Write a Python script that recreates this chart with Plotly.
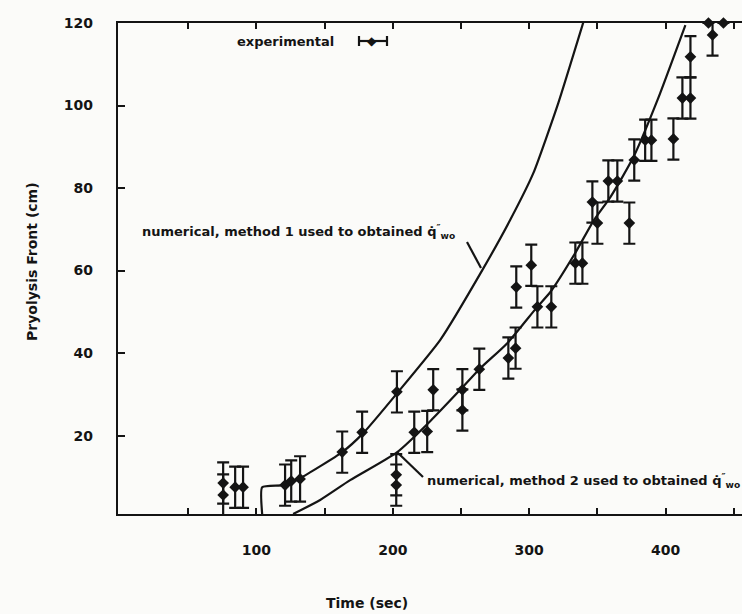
import plotly.graph_objects as go

# ---- experimental data (time s, pyrolysis front cm, +/- error cm)
exp_time = [75.6, 75.6, 84.4, 90.2, 121.0, 125.5, 132.0, 162.9, 177.5, 203.0, 202.5, 202.5,
            215.7, 225.2, 229.6, 251.0, 251.0, 263.4, 284.7, 290.0, 290.5, 301.5, 306.0,
            316.2, 333.8, 339.0, 346.3, 350.0, 358.0, 364.6, 373.4, 377.0, 385.0, 389.6,
            405.7, 412.3, 418.2, 418.2, 434.4, 431.4, 442.4]
exp_front = [8.5, 5.6, 7.5, 7.5, 8.0, 9.0, 9.5, 16.0, 20.8, 30.6, 10.5, 8.0,
             20.8, 21.0, 31.1, 31.1, 26.2, 36.1, 38.8, 41.2, 56.0, 61.3, 51.2,
             51.2, 61.8, 61.8, 76.6, 71.5, 81.7, 81.7, 71.5, 86.8, 91.6, 91.6,
             91.9, 101.8, 101.8, 111.8, 117.1, 120.0, 120.0]
exp_err = [5, 5, 5, 5, 5, 5, 5.5, 5, 5, 5, 5, 5,
           5, 5, 5, 5, 5, 5, 5, 5, 5, 5, 5,
           5, 5, 5, 5, 5, 5, 5, 5, 5, 5, 5,
           5, 5, 5, 5, 5, 0, 0]

# ---- numerical, method 1
m1_time = [104.2, 104.2, 119.6, 132.1, 162.9, 178.3, 203.2, 234.8, 265.6, 286.1, 303.0, 321.3, 339.7]
m1_front = [1.0, 7.5, 8.0, 9.7, 16.0, 20.6, 30.3, 43.2, 60.1, 72.3, 83.6, 100.6, 120.2]

# ---- numerical, method 2
m2_time = [126.9, 146.7, 168.7, 203.2, 227.4, 249.4, 263.4, 283.9, 305.9, 315.5, 333.8,
           347.0, 359.5, 376.4, 394.0, 414.5]
m2_front = [1.0, 4.4, 9.2, 16.0, 23.5, 31.1, 36.1, 42.4, 51.2, 54.8, 64.3,
            72.0, 77.8, 87.5, 101.3, 119.5]

x_tickvals = [50, 100, 150, 200, 250, 300, 350, 400, 450]
x_ticktext = ["", "100", "", "200", "", "300", "", "400", ""]
y_tickvals = [20, 40, 60, 80, 100, 120]
y_ticktext = ["20", "40", "60", "80", "100", "120"]

INK = "#141414"
BG = "#fbfbf9"
TICKFONT = dict(family="DejaVu Sans", size=14, color=INK, weight="bold")
ann_font = dict(family="DejaVu Sans", size=13, color=INK, weight="bold")
title_font = dict(family="DejaVu Sans", size=14, color=INK, weight="bold")

fig = go.Figure()
fig.add_trace(go.Scatter(x=m1_time, y=m1_front, mode="lines",
                         line=dict(color=INK, width=2.2, shape="spline", smoothing=0.5),
                         showlegend=False))
fig.add_trace(go.Scatter(x=m2_time, y=m2_front, mode="lines",
                         line=dict(color=INK, width=2.2, shape="spline", smoothing=0.6),
                         showlegend=False))
fig.add_trace(go.Scatter(x=exp_time, y=exp_front, mode="markers",
                         marker=dict(symbol="diamond", size=9, color=INK),
                         error_y=dict(type="data", array=exp_err, visible=True,
                                      color=INK, thickness=2.2, width=6),
                         cliponaxis=False, showlegend=False))

fig.update_layout(
    width=742, height=614,
    margin=dict(l=118, r=0, t=23, b=100),
    paper_bgcolor=BG, plot_bgcolor=BG,
    font=TICKFONT,
    xaxis=dict(range=[-1.5, 456], tickvals=x_tickvals, ticktext=x_ticktext,
               ticks="inside", ticklen=6, tickwidth=1.5, tickcolor=INK,
               showline=True, linecolor=INK, linewidth=2.2, mirror="ticks",
               showgrid=False, zeroline=False, ticklabelstandoff=22,
               tickfont=TICKFONT),
    yaxis=dict(range=[1, 120], tickvals=y_tickvals, ticktext=y_ticktext,
               ticks="inside", ticklen=7, tickwidth=1.5, tickcolor=INK,
               showline=True, linecolor=INK, linewidth=2.2, mirror=False,
               showgrid=False, zeroline=False, ticklabelstandoff=20,
               tickfont=TICKFONT),
)

def px2paper(px, py):
    return (px - 118) / 624.0, (514 - py) / 491.0

# labels
x, y = px2paper(140, 232)
fig.add_annotation(x=x, y=y, xref="paper", yref="paper", xanchor="left", yanchor="middle",
                   text="numerical, method 1 used to obtained q\u0307<sup>\u2033</sup><sub>wo</sub>",
                   showarrow=False, font=ann_font)
x, y = px2paper(425, 481)
fig.add_annotation(x=x, y=y, xref="paper", yref="paper", xanchor="left", yanchor="middle",
                   text="numerical, method 2 used to obtained q\u0307<sup>\u2033</sup><sub>wo</sub>",
                   showarrow=False, font=ann_font)

# pointers
for (a, b) in [((467, 242), (481, 268)), ((397, 452), (423, 477))]:
    x0, y0 = px2paper(*a)
    x1, y1 = px2paper(*b)
    fig.add_shape(type="line", xref="paper", yref="paper", x0=x0, y0=y0, x1=x1, y1=y1,
                  line=dict(color=INK, width=2.2))

# legend
x, y = px2paper(336, 42)
fig.add_annotation(x=x, y=y, xref="paper", yref="paper", xanchor="right", yanchor="middle",
                   text="experimental", showarrow=False, font=ann_font)
lx0, ly = px2paper(359, 41)
lx1, _ = px2paper(387, 41)
fig.add_shape(type="line", xref="paper", yref="paper", x0=lx0, x1=lx1, y0=ly, y1=ly,
              line=dict(color=INK, width=2.2))
for lx in (lx0, lx1):
    fig.add_shape(type="line", xref="paper", yref="paper", x0=lx, x1=lx,
                  y0=ly - 5 / 491.0, y1=ly + 5 / 491.0, line=dict(color=INK, width=2.2))
cx, _ = px2paper(372, 41)
fig.add_annotation(x=cx, y=ly, xref="paper", yref="paper", text="\u25c6", showarrow=False,
                   font=dict(family="DejaVu Sans", size=12, color=INK), xanchor="center",
                   yanchor="middle")

# axis titles
x, y = px2paper(367, 603)
fig.add_annotation(x=x, y=y, xref="paper", yref="paper", text="Time (sec)", showarrow=False,
                   font=title_font, xanchor="center", yanchor="middle")
x, y = px2paper(32, 262)
fig.add_annotation(x=x, y=y, xref="paper", yref="paper", text="Pryolysis Front (cm)",
                   showarrow=False, font=title_font, textangle=-90,
                   xanchor="center", yanchor="middle")

fig.write_html("out.html")
